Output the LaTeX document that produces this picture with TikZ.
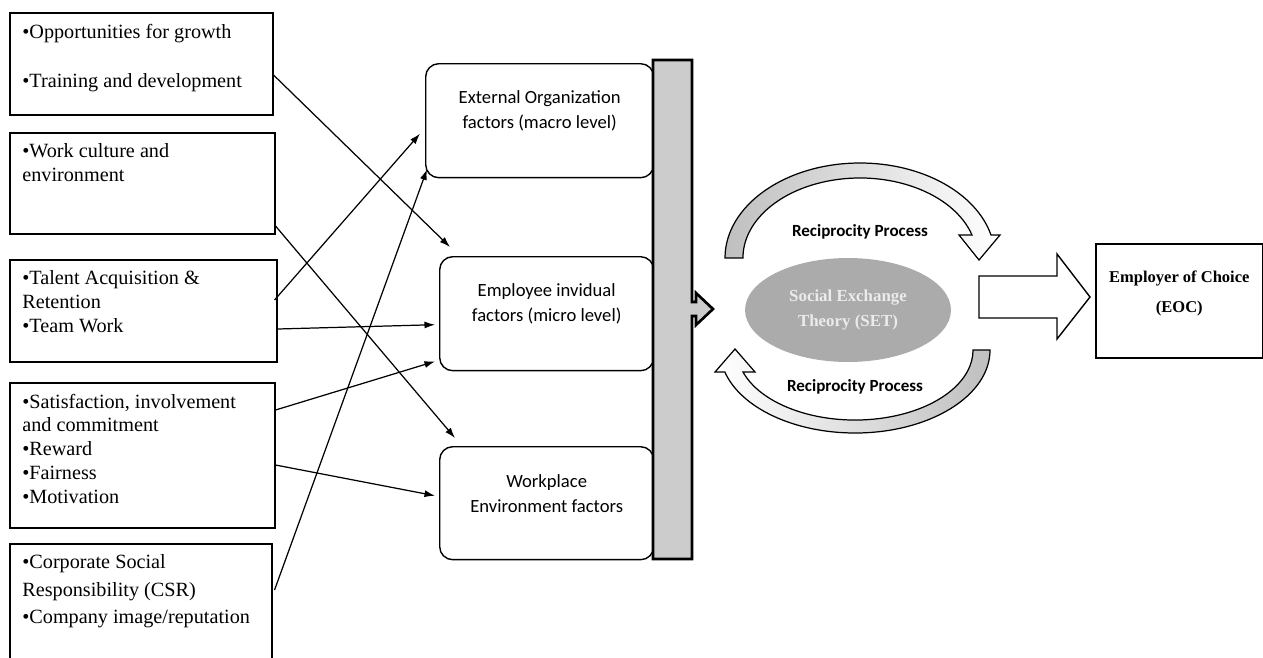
\documentclass[tikz,border=0pt]{standalone}
\usepackage{fontspec}
\setmainfont{Liberation Serif}
\newfontfamily\calibfont{Carlito}
\usetikzlibrary{calc,arrows.meta,shapes.geometric}

\begin{document}
\begin{tikzpicture}[x=0.02cm,y=0.02cm,
    srcbox/.style={draw, line width=0.9pt, anchor=north west, inner sep=0pt},
    srctext/.style={anchor=north west, align=left, inner sep=0pt, xshift=0.26cm, yshift=-0.23cm,
        font=\fontsize{11.5}{13.6}\selectfont},
    factor/.style={draw, line width=0.8pt, rounded corners=0.26cm, anchor=north west, inner sep=0pt},
    factext/.style={align=center, inner sep=0pt, yshift=0.2cm, font=\calibfont\fontsize{10.6}{14.2}\selectfont},
    conn/.style={line width=0.7pt, -{Latex[length=6pt,width=4pt]}},
    recip/.style={font=\calibfont\bfseries\fontsize{9.7}{12}\selectfont}]
    \useasboundingbox (0,0) rectangle (1263,-657);
    \clip (0,0) rectangle (1263,-657);
    %the source boxes on the left
    \node[srcbox, minimum width=5.26cm, minimum height=2.04cm,
        label={[srctext]north west:{\textbullet Opportunities for growth\\[14.7pt]\textbullet Training and development}}] (grow) at (9,-12) {};
    \node[srcbox, minimum width=5.30cm, minimum height=2.02cm,
        label={[srctext]north west:{\textbullet Work culture and\\environment}}] (cult) at (9,-132) {};
    \node[srcbox, minimum width=5.34cm, minimum height=2.04cm,
        label={[srctext]north west:{\textbullet Talent Acquisition \&\\Retention\\\textbullet Team Work}}] (tal) at (9,-259) {};
    \node[srcbox, minimum width=5.30cm, minimum height=2.90cm,
        label={[srctext]north west:{\textbullet Satisfaction, involvement\\and commitment\\\textbullet Reward\\\textbullet Fairness\\\textbullet Motivation}}] (sat) at (9,-382) {};
    \node[srcbox, minimum width=5.24cm, minimum height=2.54cm,
        label={[srctext]north west:{\textbullet Corporate Social\\[2pt]Responsibility (CSR)\\[2pt]\textbullet Company image/reputation}}] (csr) at (9,-543) {};
    %the factor boxes
    \node[factor, minimum width=4.56cm, minimum height=2.28cm,
        label={[factext]center:{External Organization\\factors (macro level)}}] (ext) at (425,-63) {};
    \node[factor, minimum width=4.28cm, minimum height=2.28cm,
        label={[factext]center:{Employee invidual\\factors (micro level)}}] (emp) at (439,-256) {};
    \node[factor, minimum width=4.28cm, minimum height=2.26cm,
        label={[factext]center:{Workplace\\Environment factors}}] (wrk) at (439,-446) {};
    %the links
    \draw[conn] ($(grow.north east)+(0,-63)$) -- ($(emp.north west)+(11,9)$);
    \draw[conn] ($(cult.north east)+(0,-94)$) -- ($(wrk.north west)+(16,8)$);
    \draw[conn] ($(tal.north east)+(-3,-41)$) -- ($(ext.west)+(-5,-13)$);
    \draw[conn] ($(tal.north east)+(0,-70)$) -- ($(emp.west)+(-4,-11)$);
    \draw[conn] ($(sat.north east)+(0,-28)$) -- ($(emp.south west)+(-4,10)$);
    \draw[conn] ($(sat.north east)+(0,-83)$) -- ($(wrk.west)+(-4,7.5)$);
    \draw[conn] ($(csr.north east)+(2,-47)$) -- ($(ext.south west)+(2,9)$);
    %the bar with its notch arrow
    \draw[line width=1.5pt, fill=black!20] (653,-60) -- (692,-60) -- (692,-302) -- (696,-302) -- (696,-293)
        -- (713,-309) -- (696,-325) -- (696,-316) -- (692,-316) -- (692,-559) -- (653,-559) -- cycle;
    %the theory and the two curved arrows
    \node[ellipse, fill=black!33, minimum width=4.12cm, minimum height=2.08cm, inner sep=0pt, align=center,
        text=white!92!black, font=\bfseries\fontsize{9.6}{14}\selectfont] (set) at (848,-310) {Social Exchange\\Theory (SET)};
    \draw[line width=0.7pt, left color=black!25, right color=white]
        (725,-258) arc[start angle=180, end angle=14, x radius=135, y radius=95]
        -- (1000,-235) -- (979,-260) -- (959,-235) -- (972,-235)
        arc[start angle=16.7, end angle=180, x radius=117, y radius=80] -- cycle;
    \draw[line width=0.7pt, right color=black!25, left color=white]
        (990,-350) arc[start angle=360, end angle=195.4, x radius=135, y radius=83]
        -- (715,-372) -- (735,-349) -- (755,-372) -- (743,-372)
        arc[start angle=198.3, end angle=360, x radius=118, y radius=70] -- cycle;
    \node[recip] (rtop) at (860,-232) {Reciprocity Process};
    \node[recip] (rbot) at (855,-387) {Reciprocity Process};
    %the outcome
    \draw[line width=0.8pt] (979,-276) -- (1057,-276) -- (1057,-254) -- (1090,-297) -- (1057,-339)
        -- (1057,-318) -- (979,-318) -- cycle;
    \node[draw, line width=0.9pt, minimum width=3.34cm, minimum height=2.28cm, anchor=north west, inner sep=0pt,
        label={[align=center, yshift=0.14cm, font=\bfseries\fontsize{9.4}{17}\selectfont]center:{Employer of Choice\\(EOC)}}] (eoc) at (1095,-243) {};
\end{tikzpicture}
\end{document}
